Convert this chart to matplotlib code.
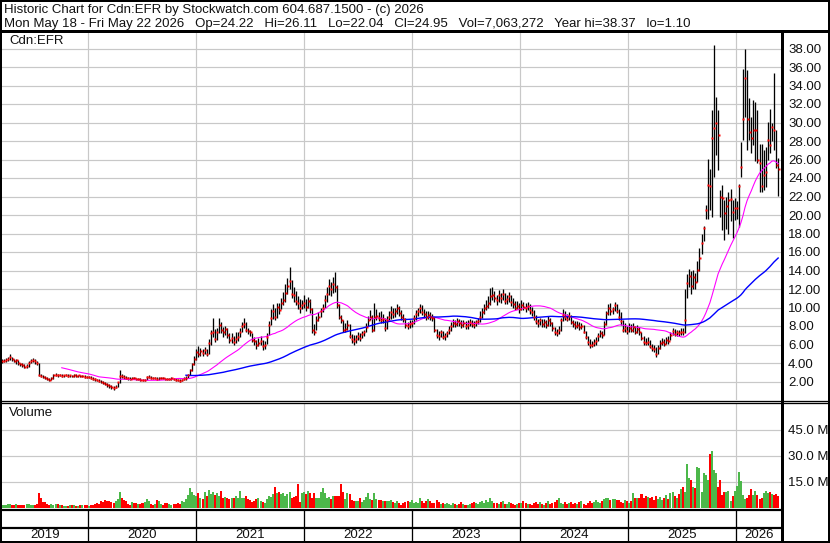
import matplotlib
matplotlib.use("Agg")
import matplotlib.pyplot as plt
import matplotlib.dates as mdates
from matplotlib.patches import Rectangle
import numpy as np
import pandas as pd

W, H = 830, 543
PX = 72 / 100  # points per pixel at 100 dpi
plt.rcParams["font.family"] = ["Liberation Sans", "DejaVu Sans"]

TITLE = "Historic Chart for Cdn:EFR by Stockwatch.com 604.687.1500 - (c) 2026"
SUBTITLE = ("Mon May 18 - Fri May 22 2026   Op=24.22   Hi=26.11   Lo=22.04   "
            "Cl=24.95   Vol=7,063,272   Year hi=38.37   lo=1.10")
SYMBOL = "Cdn:EFR"
LAST_WEEK = "2026-05-22"
YEARS = [2019, 2020, 2021, 2022, 2023, 2024, 2025, 2026]

# weekly closes, one line per stretch of the chart
close = [
    4.20, 4.25, 4.30, 4.45, 4.60, 4.40, 4.25, 4.30, 3.95, 3.85, 3.80, 3.60, 3.65, 4.00, 4.20, 4.35, 4.20, 3.95,
    2.65, 2.55, 2.50, 2.40, 2.25, 2.20, 2.35, 2.70, 2.75, 2.65, 2.70, 2.60, 2.65, 2.70, 2.60, 2.65, 2.55, 2.70,
    2.60, 2.65, 2.55, 2.60, 2.50, 2.45, 2.45,
    2.40, 2.30, 2.25, 2.15, 2.10, 2.00, 1.85, 1.75, 1.65, 1.50, 1.40, 1.30, 1.45, 1.90, 2.60, 2.55, 2.45, 2.40,
    2.35, 2.30, 2.40, 2.35, 2.25, 2.30, 2.20, 2.15, 2.20, 2.45, 2.50, 2.40, 2.35, 2.40, 2.30, 2.35, 2.40, 2.35,
    2.30, 2.25, 2.30, 2.35, 2.25, 2.20, 2.15, 2.10, 2.20, 2.30, 2.40,
    2.70, 3.20, 3.90, 4.40, 5.20, 5.00, 5.30, 5.10, 5.40, 5.00,
    6.20, 7.20, 7.40, 6.60, 7.30, 8.10, 7.60, 7.30, 7.70, 7.00,
    6.50, 6.70, 6.30, 6.60, 6.80, 7.40, 8.00, 8.20, 7.60, 7.50, 7.30,
    6.50, 6.40, 5.90, 6.20, 6.40, 5.80, 6.00, 6.80,
    8.10, 8.90, 9.60, 9.00, 10.10, 9.70, 10.50, 10.80, 11.60, 12.30, 12.90,
    11.50, 11.30, 10.70, 10.50, 10.00, 10.30, 10.50, 10.10, 10.70, 9.80,
    7.60, 7.40, 8.70, 9.00, 9.60, 10.00, 10.80, 11.50, 12.30, 12.00, 12.50, 12.20, 10.30,
    9.00, 8.60, 7.60, 7.70, 8.10, 6.90, 6.60, 6.40, 6.60, 6.90, 6.70, 7.10, 7.30, 7.90, 8.70, 9.00,
    7.60, 9.00, 9.10, 8.90, 8.70, 8.80, 7.80, 8.70, 9.00, 9.50, 9.30, 9.60, 10.00, 9.40, 9.00,
    8.80, 8.10, 8.00, 8.20, 8.30, 8.90, 9.30, 9.60, 10.00, 9.50, 9.30, 9.00, 9.20, 9.00, 8.90,
    7.60, 7.00, 6.90, 7.40, 6.80, 6.90, 7.20, 7.60, 8.00, 8.30, 8.20, 8.50, 8.30, 8.10, 8.30,
    8.00, 8.10, 8.40, 8.20, 8.10, 8.40, 8.50, 9.00, 9.50, 9.90, 10.20,
    10.50, 11.20, 11.40, 11.00, 10.80, 11.30, 11.00, 11.50, 10.70, 10.90, 11.20, 10.60, 10.40, 10.00,
    10.20, 9.80, 10.30, 10.10, 9.90, 10.20, 9.70, 9.50,
    9.00, 8.50, 8.30, 8.60, 8.20, 8.40, 8.10, 8.70, 8.30, 7.80, 7.40, 7.20, 7.60, 8.60, 9.20, 9.00, 8.80,
    9.10, 8.40, 8.20, 8.00, 8.10, 7.90, 8.00, 7.40, 6.80, 6.30, 6.00, 5.90, 6.20, 6.40, 6.90, 7.20, 7.00, 8.20,
    9.40, 10.00, 9.60, 9.80, 10.30, 9.60, 9.00, 8.50, 7.60, 7.80, 7.50, 7.80, 7.60, 7.90, 7.40, 7.70, 7.30,
    6.70, 6.30, 6.20, 6.30, 5.80, 5.60, 5.50, 5.00, 5.60, 6.20, 6.30, 6.10, 6.50, 6.40, 7.00, 7.50, 7.10,
    7.30, 7.20, 7.40, 7.30, 8.70,
    12.6, 13.4, 12.3, 13.3, 12.8, 14.1, 15.4, 17.0, 18.6, 20.5, 23.2, 23.1, 28.3, 29.4, 29.9, 28.7, 22.0,
    21.8, 20.2, 21.0, 21.6, 21.7, 20.3, 20.8, 20.8, 23.1, 25.2, 30.4, 34.8, 30.4, 29.0, 28.3, 29.2, 29.2,
    25.9, 25.6, 23.1, 24.3, 24.6, 28.1, 27.6, 29.5, 29.2, 25.4, 24.95,
]

high = [
    4.45, 4.40, 4.50, 4.65, 4.95, 4.70, 4.45, 4.45, 4.30, 4.05, 3.95, 3.85, 3.90, 4.20, 4.40, 4.50, 4.45, 4.25,
    3.95, 2.80, 2.70, 2.60, 2.50, 2.40, 2.45, 2.80, 2.90, 2.85, 2.80, 2.80, 2.75, 2.85, 2.80, 2.75, 2.75, 2.80,
    2.80, 2.75, 2.75, 2.70, 2.65, 2.60, 2.60,
    2.55, 2.50, 2.40, 2.30, 2.25, 2.20, 2.05, 1.95, 1.85, 1.75, 1.65, 1.50, 1.60, 2.00, 3.20, 2.80, 2.70, 2.60,
    2.50, 2.45, 2.50, 2.50, 2.40, 2.40, 2.35, 2.30, 2.30, 2.55, 2.65, 2.60, 2.50, 2.50, 2.45, 2.45, 2.50, 2.50,
    2.40, 2.40, 2.40, 2.45, 2.40, 2.35, 2.30, 2.25, 2.30, 2.45, 2.60,
    2.80, 3.40, 4.00, 4.80, 5.50, 5.80, 5.60, 5.50, 5.70, 5.50,
    6.60, 7.60, 8.90, 7.70, 7.80, 8.90, 8.40, 7.90, 8.00, 7.80,
    7.20, 7.20, 6.90, 7.40, 7.30, 7.80, 8.40, 8.90, 8.40, 7.80, 7.60,
    7.20, 6.80, 6.50, 6.70, 6.90, 6.50, 6.40, 7.20,
    8.50, 9.80, 10.40, 10.00, 10.50, 10.50, 11.00, 11.70, 12.50, 13.20, 14.40,
    13.00, 12.20, 11.80, 11.20, 10.90, 10.80, 11.30, 10.90, 11.10, 10.90,
    9.90, 8.20, 9.10, 9.50, 10.00, 10.40, 11.30, 12.20, 13.10, 12.80, 13.30, 13.80, 12.40,
    10.40, 9.20, 8.60, 8.30, 8.60, 8.20, 7.10, 7.00, 7.00, 7.30, 7.20, 7.50, 7.60, 8.30, 9.10, 9.70,
    9.20, 10.50, 9.80, 9.50, 9.60, 9.30, 8.90, 9.10, 9.60, 10.20, 9.90, 10.00, 10.40, 10.20, 9.70,
    9.30, 8.90, 8.40, 8.60, 8.70, 9.20, 9.70, 10.00, 10.40, 10.30, 9.80, 9.60, 9.60, 9.50, 9.30,
    9.00, 7.70, 7.50, 7.60, 7.50, 7.20, 7.50, 8.00, 8.40, 8.80, 8.60, 8.90, 8.80, 8.60, 8.70,
    8.50, 8.60, 8.80, 8.60, 8.50, 8.70, 8.90, 9.60, 9.90, 10.40, 10.80,
    11.20, 12.10, 12.20, 11.80, 11.40, 11.90, 11.60, 12.00, 11.60, 11.40, 11.70, 11.30, 11.00, 10.70,
    10.70, 10.50, 10.80, 10.60, 10.50, 10.60, 10.40, 10.10,
    9.70, 9.20, 8.80, 8.90, 8.80, 8.80, 8.60, 9.10, 8.90, 8.40, 7.90, 7.70, 8.00, 8.90, 9.80, 9.60, 9.30,
    9.50, 9.20, 8.70, 8.50, 8.50, 8.40, 8.30, 8.10, 7.50, 6.90, 6.60, 6.40, 6.60, 6.80, 7.20, 7.60, 7.50, 8.50,
    9.60, 10.40, 10.50, 10.10, 10.60, 10.40, 9.80, 9.50, 8.60, 8.30, 8.00, 8.30, 8.20, 8.30, 8.00, 8.10, 7.90,
    7.40, 6.90, 6.70, 6.80, 6.50, 6.10, 6.00, 5.70, 5.90, 6.50, 6.70, 6.60, 6.80, 6.90, 7.30, 7.80, 7.70,
    7.60, 7.60, 7.80, 7.80, 12.00,
    13.6, 14.2, 13.9, 14.1, 13.7, 15.0, 16.4, 18.0, 18.8, 21.1, 26.1, 25.0, 31.3, 38.4, 32.8, 31.3, 22.7,
    23.2, 21.6, 22.0, 22.5, 22.8, 21.6, 21.8, 21.5, 23.4, 27.9, 35.8, 37.9, 35.7, 32.6, 30.6, 32.4, 32.2,
    31.3, 27.7, 27.7, 27.0, 27.4, 30.1, 31.5, 30.0, 35.3, 29.2, 26.11,
]

low = [
    4.05, 4.10, 4.15, 4.25, 4.35, 4.20, 4.10, 3.90, 3.80, 3.70, 3.55, 3.45, 3.50, 3.60, 4.00, 4.15, 3.90, 3.80,
    2.55, 2.45, 2.40, 2.25, 2.15, 2.10, 2.15, 2.30, 2.60, 2.50, 2.55, 2.50, 2.50, 2.55, 2.50, 2.50, 2.45, 2.50,
    2.50, 2.50, 2.45, 2.45, 2.40, 2.35, 2.35,
    2.30, 2.20, 2.10, 2.05, 1.95, 1.85, 1.70, 1.60, 1.45, 1.35, 1.20, 1.10, 1.25, 1.40, 1.85, 2.40, 2.30, 2.25,
    2.20, 2.20, 2.25, 2.25, 2.15, 2.15, 2.10, 2.05, 2.05, 2.15, 2.35, 2.30, 2.25, 2.25, 2.20, 2.20, 2.25, 2.25,
    2.20, 2.15, 2.15, 2.20, 2.15, 2.10, 2.05, 2.00, 2.05, 2.15, 2.20,
    2.35, 2.70, 3.10, 3.80, 4.30, 4.70, 4.80, 4.80, 5.00, 4.80,
    5.00, 6.00, 6.80, 6.30, 6.50, 7.20, 7.20, 6.80, 7.00, 6.70,
    6.20, 6.20, 6.00, 6.20, 6.40, 6.80, 7.30, 7.80, 7.30, 7.10, 6.90,
    6.30, 6.00, 5.50, 5.80, 6.00, 5.40, 5.50, 6.10,
    7.00, 8.10, 8.80, 8.60, 8.90, 9.30, 9.80, 10.30, 10.60, 11.50, 12.00,
    11.00, 10.60, 10.30, 9.80, 9.40, 9.80, 10.00, 9.60, 9.90, 9.40,
    7.20, 7.00, 7.60, 8.50, 9.00, 9.50, 10.00, 10.60, 11.30, 11.20, 11.60, 11.70, 10.00,
    8.80, 8.30, 7.40, 7.30, 7.60, 6.70, 6.20, 6.00, 6.20, 6.50, 6.40, 6.70, 6.90, 7.30, 8.00, 8.60,
    7.30, 7.50, 8.60, 8.50, 8.30, 8.30, 7.50, 7.70, 8.50, 8.80, 8.90, 9.00, 9.30, 9.10, 8.70,
    8.40, 7.80, 7.70, 7.80, 7.90, 8.20, 8.70, 9.10, 9.40, 9.20, 8.90, 8.70, 8.80, 8.60, 8.50,
    7.40, 6.70, 6.50, 6.80, 6.60, 6.50, 6.80, 7.10, 7.50, 7.90, 7.90, 8.00, 8.00, 7.80, 7.90,
    7.70, 7.70, 8.00, 7.90, 7.80, 8.00, 8.20, 8.40, 8.90, 9.30, 9.70,
    10.00, 10.30, 10.80, 10.60, 10.30, 10.60, 10.50, 10.80, 10.40, 10.40, 10.60, 10.20, 10.00, 9.70,
    9.80, 9.40, 9.70, 9.70, 9.50, 9.70, 9.30, 9.10,
    8.70, 8.20, 7.90, 8.10, 7.90, 7.90, 7.80, 8.00, 8.00, 7.50, 7.00, 6.90, 7.10, 7.50, 8.50, 8.70, 8.50,
    8.60, 8.20, 7.90, 7.70, 7.80, 7.60, 7.70, 7.20, 6.60, 5.90, 5.60, 5.70, 5.80, 6.00, 6.40, 6.80, 6.70, 7.00,
    8.10, 9.20, 9.20, 9.30, 9.60, 9.40, 8.70, 8.10, 7.30, 7.40, 7.10, 7.30, 7.30, 7.40, 7.10, 7.20, 7.00,
    6.50, 6.00, 5.90, 5.90, 5.60, 5.30, 5.20, 4.70, 5.00, 5.50, 6.00, 5.80, 6.10, 6.10, 6.50, 7.00, 6.90,
    6.90, 6.90, 7.00, 7.00, 7.20,
    11.0, 12.2, 11.5, 12.0, 12.0, 12.8, 14.0, 15.8, 17.2, 19.6, 19.6, 20.5, 19.8, 24.1, 26.5, 24.9, 19.8,
    18.4, 17.3, 18.5, 18.0, 19.3, 17.5, 19.5, 19.6, 18.7, 24.1, 28.1, 30.6, 27.0, 28.1, 26.7, 27.6, 25.8,
    25.6, 22.5, 22.5, 22.7, 23.0, 25.9, 26.7, 28.0, 27.0, 25.1, 22.04,
]

# weekly volume, millions of shares
volume = [
    2.0, 1.5, 2.0, 2.2, 2.5, 2.0, 1.8, 2.2, 2.0, 1.8, 1.5, 2.0, 2.5, 2.2, 1.8, 2.0, 2.0, 2.5,
    8.5, 5.5, 3.5, 3.2, 2.5, 2.0, 2.2, 2.0, 2.2, 2.5, 2.0, 1.5, 1.2, 1.0, 1.2, 1.5, 1.8, 1.5,
    1.2, 1.0, 1.5, 2.0, 1.8, 1.5, 1.2,
    2.0, 1.5, 2.5, 3.0, 2.5, 4.0, 3.5, 4.5, 4.0, 3.8, 3.5, 3.0, 4.0, 5.0, 9.5, 6.0, 4.5, 4.0,
    2.5, 2.0, 3.5, 3.0, 2.8, 2.5, 2.5, 3.0, 3.5, 5.0, 4.0, 2.5, 2.0, 2.5, 4.5, 4.0, 2.5, 2.0,
    3.0, 3.0, 2.5, 2.0, 2.5, 2.5, 3.0, 2.5, 4.0, 3.5, 5.0,
    7.5, 11.7, 9.0, 7.5, 7.0, 8.8, 6.0, 5.0, 9.5, 7.0,
    10.4, 8.0, 9.5, 7.5, 8.5, 7.0, 10.0, 6.0, 6.5, 5.5,
    5.0, 6.0, 5.5, 7.0, 6.0, 9.8, 6.0, 6.0, 7.0, 5.0, 4.5,
    3.5, 4.0, 5.0, 5.5, 4.0, 3.5, 3.0, 5.0,
    7.0, 6.5, 8.0, 12.0, 8.5, 9.0, 8.0, 8.5, 7.0, 8.0, 9.0,
    6.0, 6.6, 7.0, 14.0, 3.2, 8.5, 9.2, 8.0, 10.0, 8.5,
    5.5, 8.5, 5.5, 5.5, 9.4, 11.3, 8.5, 6.0, 6.5, 5.0, 7.0, 7.0, 7.0,
    7.0, 14.0, 9.0, 5.0, 8.5, 8.0, 4.5, 4.0, 4.0, 4.0, 5.5, 3.5, 4.5, 6.5, 8.5, 5.0,
    4.5, 8.5, 5.0, 4.5, 4.5, 4.0, 4.0, 4.0, 4.0, 4.5, 3.5, 3.0, 4.0, 3.0, 2.0,
    3.0, 3.5, 4.0, 3.5, 4.5, 3.0, 3.5, 3.0, 5.6, 4.0, 3.0, 4.0, 5.0, 4.0, 3.0,
    3.0, 4.5, 3.5, 2.5, 3.0, 2.5, 3.0, 2.5, 2.0, 3.0, 2.5, 2.0, 2.5, 3.5, 2.5,
    2.0, 2.0, 2.5, 3.0, 3.5, 3.0, 2.5, 3.5, 4.0, 3.0, 4.5,
    3.5, 5.5, 4.0, 3.0, 3.0, 2.5, 3.5, 4.0, 2.5, 2.5, 3.5, 3.0, 2.5, 2.0,
    2.5, 3.0, 3.0, 4.0, 3.0, 2.5, 2.5, 2.0,
    3.0, 3.5, 2.5, 3.5, 2.5, 2.0, 3.0, 4.0, 2.5, 3.0, 3.5, 4.5, 5.5, 3.0, 2.5, 3.5, 2.5,
    3.0, 3.5, 2.5, 3.0, 2.5, 3.5, 4.0, 2.5, 2.0, 3.0, 4.0, 3.0, 3.5, 4.5, 3.5, 3.0, 4.0, 5.0,
    5.5, 6.0, 4.5, 5.0, 5.0, 4.5, 4.5, 3.5, 3.0, 4.5, 4.0, 3.0, 4.0, 8.5, 6.0, 6.0, 6.0,
    8.0, 5.5, 7.0, 6.5, 5.5, 6.5, 4.5, 7.0, 5.0, 6.5, 4.5, 6.0, 7.5, 5.0, 8.5, 9.5, 7.0,
    5.5, 8.0, 11.0, 12.0, 9.0,
    25.5, 17.0, 16.0, 12.0, 11.5, 23.7, 23.0, 9.0, 20.0, 19.0, 16.0, 31.0, 33.0, 22.0, 20.0, 12.0, 16.0,
    7.5, 9.0, 9.0, 10.0, 4.0, 7.0, 10.0, 12.5, 21.0, 15.5, 7.5, 5.0, 6.0, 7.5, 11.0, 7.5, 10.0,
    7.5, 5.0, 6.0, 8.5, 10.0, 8.5, 9.0, 8.0, 7.5, 8.0, 7.06,
]

price_ticks = list(range(2, 40, 2))
volume_ticks = [15, 30, 45]

dates = pd.date_range(end=LAST_WEEK, periods=len(close), freq="W-FRI")
x = mdates.date2num(dates)
c = np.array(close)
ma_fast = pd.Series(close).rolling(30).mean()
ma_slow = pd.Series(close).rolling(90).mean()
up = np.r_[True, c[1:] >= c[:-1]]

xmin = mdates.date2num(pd.Timestamp("2019-03-16"))
xmax = mdates.date2num(pd.Timestamp("2026-06-04"))
year_starts = [mdates.date2num(pd.Timestamp(f"{y}-01-01")) for y in YEARS[1:]]

fig = plt.figure(figsize=(W / 100, H / 100), dpi=100)
fig.patch.set_facecolor("white")


def px_axes(x0, y0, x1, y1):
    return fig.add_axes([x0 / W, 1 - y1 / H, (x1 - x0) / W, (y1 - y0) / H])


def to_px(xd):
    return 2 + (xd - xmin) / (xmax - xmin) * 780


ax = px_axes(2, 30, 782, 400)
vax = px_axes(2, 403, 782, 508)

for a in (ax, vax):
    a.set_xlim(xmin, xmax)
    a.set_xticks(year_starts)
    a.yaxis.tick_right()
    a.tick_params(axis="x", length=0, labelbottom=False)
    a.tick_params(axis="y", length=0, pad=4.3, labelsize=9.5, labelcolor="#111111")
    a.grid(True, color="#c8c8c8", lw=1.2 * PX)
    a.set_axisbelow(True)
    for s in a.spines.values():
        s.set_visible(False)

ax.set_ylim(0, 40)
ax.set_yticks(price_ticks)
ax.set_yticklabels([f"{v:.2f}" for v in price_ticks])
ax.vlines(x, low, high, color="black", lw=1.3 * PX, zorder=2)
ax.plot(x, ma_fast, color="#ff00ff", lw=1.1 * PX, zorder=3)
ax.plot(x, ma_slow, color="#0000ff", lw=1.4 * PX, zorder=3)
ax.plot(x + 1.5, close, ls="none", marker="s", ms=2.8 * PX, mfc="#ff0000",
        mec="none", zorder=4)

vax.set_ylim(0, 60.5)
vax.set_yticks(volume_ticks)
vax.set_yticklabels([f"{v:.1f} M" for v in volume_ticks])
vax.bar(x, volume, width=6.8, color=np.where(up, "#4cb84a", "#ff0000"), lw=0, zorder=2)

# frame, separators and date rows drawn in pixel space
ov = fig.add_axes([0, 0, 1, 1], zorder=10)
ov.set_xlim(0, W)
ov.set_ylim(H, 0)
ov.axis("off")
ov.patch.set_alpha(0)


def line(xs, ys, lw):
    ov.plot(xs, ys, color="black", lw=lw * PX, solid_capstyle="butt")


ov.add_patch(Rectangle((1, 1), W - 2, H - 2, fill=False, lw=2 * PX, ec="black"))
line([0, W], [30.5, 30.5], 3)
line([782, 782], [30, H], 3)
line([0, W], [400.5, 400.5], 1.3)
line([0, W], [403, 403], 1.3)
line([0, 782], [509.5, 509.5], 2.2)
line([0, 782], [527.5, 527.5], 2.2)

bounds = [xmin] + year_starts + [xmax]
for xs in year_starts:
    xp = to_px(xs)
    line([xp, xp], [509, H - 1], 1.3)
for yr, a, b in zip(YEARS, bounds[:-1], bounds[1:]):
    ov.text((to_px(a) + to_px(b)) / 2, 535, str(yr), ha="center", va="center",
            fontsize=9.5, color="#111111")

ov.text(4, 13.5, TITLE, fontsize=9.5, va="baseline", color="#111111")
ov.text(4, 27.5, SUBTITLE, fontsize=9.5, va="baseline", color="#111111")
ov.text(9, 41, SYMBOL, fontsize=9.5, va="center", color="#111111")
ov.text(9, 413, "Volume", fontsize=9.5, va="center", color="#111111")

fig.savefig("out.png", dpi=100, facecolor="white")
